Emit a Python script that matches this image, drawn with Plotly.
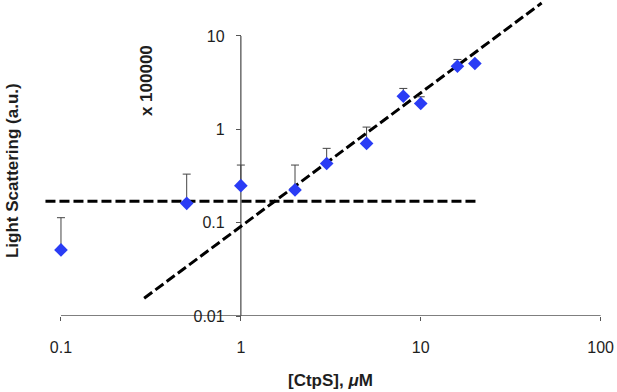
import plotly.graph_objects as go

# Data
conc_uM = [0.1, 0.5, 1, 2, 3, 5, 8, 10, 16, 20]
scatter_signal = [0.051, 0.161, 0.249, 0.224, 0.43, 0.706, 2.26, 1.89, 4.74, 5.07]
error_plus = [0.062, 0.17, 0.165, 0.19, 0.195, 0.35, 0.48, 0.34, 0.86, 0.2]
error_minus = [0, 0, 0, 0, 0, 0, 0, 0, 0, 0]

baseline_x = [0.082, 20.5]
baseline_y = [0.17, 0.17]
trend_x = [0.29, 47]
trend_y = [0.0155, 22.5]

x_tickvals = [0.1, 1, 10, 100]
x_ticktext = ["0.1", "1", "10", "100"]
y_tickvals = [0.01, 0.1, 1, 10]
y_ticktext = ["0.01", "0.1", "1", "10"]

W, H = 617, 392

xr = [-1.2, 2.03]
yr = [-2.0, 1.385]
D_X = 180.0
D_Y = 93.5
l_m = 60.7 - (-1 - xr[0]) * D_X
pw = (xr[1] - xr[0]) * D_X
r_m = W - l_m - pw
t_m = max(0.0, 36 - (yr[1] - 1) * D_Y)
ph = (yr[1] - yr[0]) * D_Y
b_m = H - t_m - ph


def px(xs):
    return (xs - l_m) / pw


def py(ys):
    return (t_m + ph - ys) / ph


axis_col = "#555555"
txt_col = "#1e1e1e"
font_fam = "Liberation Sans, Arial, Helvetica, sans-serif"

fig = go.Figure()

# axis lines (x axis from 0.1 to 100 at y=0.01; y axis at x=1 from 0.01 to 10)
fig.add_trace(go.Scatter(x=[x_tickvals[0], x_tickvals[-1]], y=[y_tickvals[0], y_tickvals[0]],
                         mode="lines", line=dict(color=axis_col, width=1.3),
                         hoverinfo="skip", showlegend=False))
fig.add_trace(go.Scatter(x=[1, 1], y=[y_tickvals[0], y_tickvals[-1]],
                         mode="lines", line=dict(color=axis_col, width=1.3),
                         hoverinfo="skip", showlegend=False))

fig.add_trace(go.Scatter(x=baseline_x, y=baseline_y, mode="lines",
                         line=dict(color="black", width=3, dash="10px,4px"),
                         hoverinfo="skip", showlegend=False))
fig.add_trace(go.Scatter(x=trend_x, y=trend_y, mode="lines",
                         line=dict(color="black", width=3, dash="10px,4px"),
                         hoverinfo="skip", showlegend=False))

fig.add_trace(go.Scatter(
    x=conc_uM, y=scatter_signal, mode="markers",
    marker=dict(symbol="diamond", size=10.5, color="#2a3cf5"),
    error_y=dict(type="data", symmetric=False, array=error_plus, arrayminus=error_minus,
                 color="#444444", thickness=1, width=4),
    showlegend=False, cliponaxis=False))

fig.update_layout(
    width=W, height=H,
    margin=dict(l=l_m, r=r_m, t=t_m, b=b_m, pad=0, autoexpand=False),
    paper_bgcolor="white", plot_bgcolor="white",
    font=dict(family=font_fam, size=16, color=txt_col),
    xaxis=dict(type="log", range=xr, showgrid=False, zeroline=False, showline=False,
               tickvals=x_tickvals, ticktext=x_ticktext, ticks="outside", ticklen=4,
               tickcolor=axis_col, tickwidth=1.3, ticklabelstandoff=13,
               tickfont=dict(size=16, color=txt_col)),
    yaxis=dict(type="log", range=yr, showgrid=False, zeroline=False, showline=False,
               anchor="free", position=(0 - xr[0]) / (xr[1] - xr[0]),
               tickvals=y_tickvals, ticktext=y_ticktext, ticks="outside", ticklen=5,
               tickcolor=axis_col, tickwidth=1.3, ticklabelstandoff=8,
               tickfont=dict(size=16, color=txt_col)),
    annotations=[
        dict(text="<b>[CtpS], <i>μ</i>M</b>", xref="paper", yref="paper",
             x=px(330.5), y=py(381), xanchor="center", yanchor="middle",
             showarrow=False, font=dict(size=17, color=txt_col)),
        dict(text="<b>Light Scattering (a.u.)</b>", xref="paper", yref="paper",
             x=px(12), y=py(171), xanchor="center", yanchor="middle",
             textangle=-90, showarrow=False, font=dict(size=17, color=txt_col)),
        dict(text="<b>x 100000</b>", xref="paper", yref="paper",
             x=px(147), y=py(81), xanchor="center", yanchor="middle",
             textangle=-90, showarrow=False, font=dict(size=17, color=txt_col)),
    ],
)

fig.write_html("out.html", config={"displayModeBar": False},
               post_script="document.body.style.margin='0px';document.body.style.overflow='hidden';")
